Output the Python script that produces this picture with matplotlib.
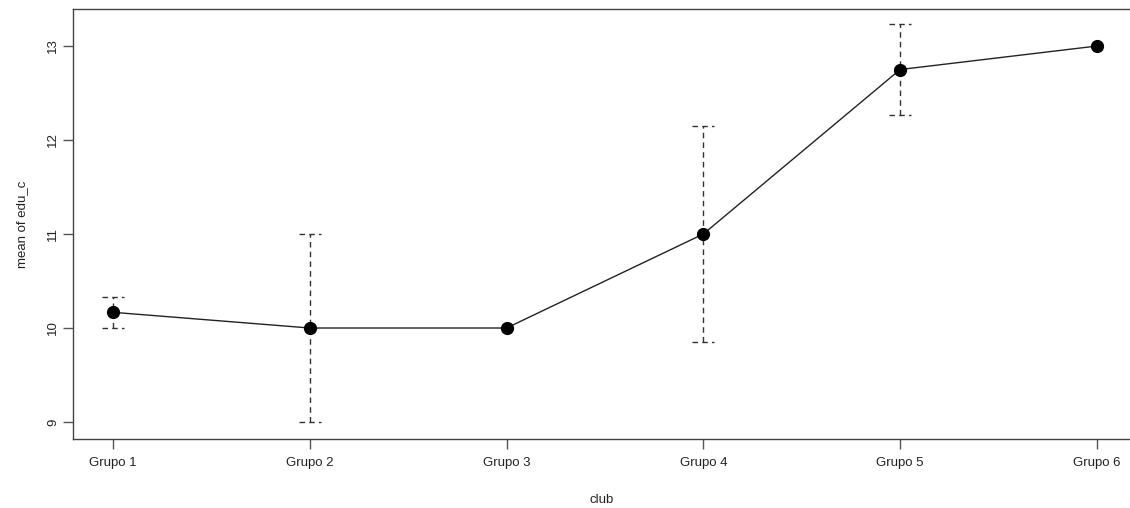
import numpy as np
import matplotlib.pyplot as plt

plt.rcParams['font.family'] = ['Liberation Sans', 'DejaVu Sans']

groups = ["Grupo 1", "Grupo 2", "Grupo 3", "Grupo 4", "Grupo 5", "Grupo 6"]
means = [10.167, 10.0, 10.0, 11.0, 12.75, 13.0]
lower = [10.0, 9.0, 10.0, 9.85, 12.27, 13.0]
upper = [10.333, 11.0, 10.0, 12.15, 13.23, 13.0]
yticks = [9, 10, 11, 12, 13]

x = np.arange(1, len(groups) + 1)

fig = plt.figure(figsize=(11.3, 5.08), dpi=100)
ax = fig.add_axes([0.0646, 0.1358, 0.9354, 0.8465])

# dashed error bars with caps (only where they have length)
cap = 0.056
for xi, lo, hi in zip(x, lower, upper):
    if hi - lo <= 0:
        continue
    ax.plot([xi, xi], [lo, hi], color='#333333', lw=1, ls=(0, (4, 3)))
    ax.plot([xi - cap, xi + cap], [lo, lo], color='#333333', lw=1, ls=(0, (4, 3)))
    ax.plot([xi - cap, xi + cap], [hi, hi], color='#333333', lw=1, ls=(0, (4, 3)))

ax.plot(x, means, color='#222222', lw=1, zorder=3)
ax.plot(x, means, 'o', color='black', ms=8.5, zorder=4)

ax.set_xlim(0.797, 6.168)
ax.set_ylim(8.819, 13.394)
ax.set_xticks(x)
ax.set_xticklabels(groups, fontsize=9.5, color='#222222')
ax.set_yticks(yticks)
ax.set_yticklabels([str(v) for v in yticks], rotation=90, va='center',
                   fontsize=9.5, color='#222222')
ax.tick_params(direction='out', length=7, width=1, color='#555555', pad=6)
ax.tick_params(axis='y', pad=3)

for s in ['left', 'top', 'bottom']:
    ax.spines[s].set_color('#444444')
    ax.spines[s].set_linewidth(1)
ax.spines['right'].set_visible(False)

ax.set_xlabel("club", fontsize=9.5, color='#222222', labelpad=18)
ax.set_ylabel("mean of edu_c", fontsize=9.5, color='#222222', labelpad=14)

fig.savefig("out.png", dpi=100)
